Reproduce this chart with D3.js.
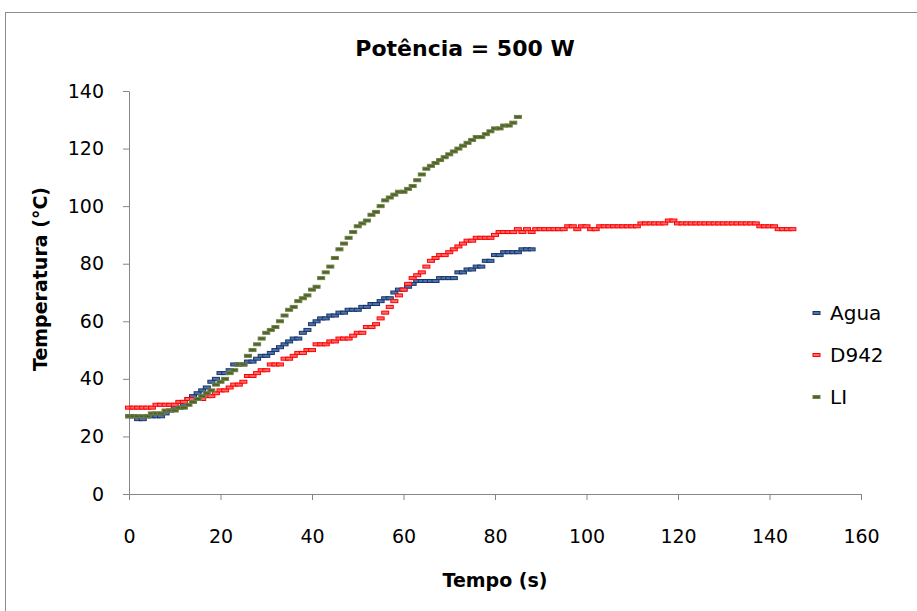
<!DOCTYPE html>
<head>
  <meta charset="utf-8">
  <script src="https://d3js.org/d3.v7.min.js"></script>
  <style>
    body { margin:0; background:white; }
    svg { display:block; background:white; }
    text { font-family: "Comic Sans MS", "DejaVu Sans", sans-serif; fill:#000; }
    .axis path, .axis line { stroke:#868686; }
  </style>
</head>

<body>
  <script>
    // temperatures, one sample per second starting at t = 0
    var sampleStep = 1;

    var agua = [
      27,27,26,26,27,27,27,27,28,29,
      30,30,31,33,34,35,36,37,39,40,
      42,42,43,45,45,45,46,46,47,48,
      48,49,50,51,52,53,54,54,56,57,
      59,60,61,61,62,62,63,63,64,64,
      64,65,65,66,66,67,68,68,70,71,
      71,72,73,74,74,74,74,74,75,75,
      75,75,77,77,78,78,79,79,81,81,
      83,83,84,84,84,84,85,85,85
    ];

    var d942 = [
      30,30,30,30,30,30,
      31,31,31,31,31,
      32,32,33,33,33,33,
      34,34,35,36,36,37,38,38,39,
      41,41,42,43,43,45,45,45,47,47,
      48,49,49,50,50,52,52,52,53,53,
      54,54,54,55,56,56,58,58,59,61,
      63,65,67,69,71,73,75,76,77,79,
      81,82,83,83,84,85,86,87,88,88,
      89,89,89,89,90,91,91,91,91,92,
      91,92,91,92,92,92,92,92,92,92,
      93,93,92,93,93,92,92,93,93,93,
      93,93,93,93,93,93,94,94,94,94,
      94,94,95,95,94,94,94,94,94,94,
      94,94,94,94,94,94,94,94,94,94,
      94,94,93,93,93,93,92,92,92,92
    ];

    var li = [
      27,27,27,27,27,28,28,28,29,29,
      29,30,30,31,32,33,34,35,36,38,
      39,40,42,43,45,45,48,50,52,54,
      56,57,58,60,62,64,65,67,68,69,
      71,72,75,77,79,82,85,87,89,91,
      93,94,95,97,98,100,102,103,104,105,
      105,106,107,109,111,113,114,115,116,117,
      118,119,120,121,122,123,124,124,125,126,
      127,127,128,128,129,131
    ];

    var seriesNames = ["Agua", "D942", "LI"];
    var xTicks = [0, 20, 40, 60, 80, 100, 120, 140, 160];
    var yTicks = [0, 20, 40, 60, 80, 100, 120, 140];

    var width = 917;
    var height = 611;

    var colors = {
      "Agua": { fill: "#4a74b4", stroke: "#1c3464" },
      "D942": { fill: "#ff6a6a", stroke: "#ff0000" },
      "LI":   { fill: "#4f6228", stroke: "#6f8048" }
    };

    var svg = d3.select("body").append("svg")
      .attr("width", width)
      .attr("height", height);

    // outer chart border (runs off the right/bottom edge)
    svg.append("rect")
      .attr("x", 5.5).attr("y", 12.5)
      .attr("width", 940).attr("height", 640)
      .attr("fill", "none")
      .attr("stroke", "#8c8c8c");

    var x = d3.scaleLinear().domain([0, 160]).range([129, 861]);
    var y = d3.scaleLinear().domain([0, 140]).range([494, 91]);

    var xAxis = svg.append("g")
      .attr("class", "axis")
      .attr("transform", "translate(0,494)")
      .call(d3.axisBottom(x).tickValues(xTicks).tickSize(6).tickSizeOuter(0).tickPadding(30));
    xAxis.selectAll("text").attr("font-size", 19).attr("font-family", null);

    var yAxis = svg.append("g")
      .attr("class", "axis")
      .attr("transform", "translate(129,0)")
      .call(d3.axisLeft(y).tickValues(yTicks).tickSize(6).tickSizeOuter(0).tickPadding(19));
    yAxis.selectAll("text").attr("font-size", 19).attr("font-family", null);

    svg.selectAll(".axis .domain").attr("stroke", "#868686");

    function toPoints(vals) {
      return vals.map(function(v, i) { return { t: i * sampleStep, v: v }; });
    }

    var data = [
      { name: "Agua", points: toPoints(agua) },
      { name: "D942", points: toPoints(d942) },
      { name: "LI", points: toPoints(li) }
    ];

    var groups = svg.selectAll(".series")
      .data(data)
      .enter()
      .append("g")
      .attr("class", "series");

    groups.selectAll("rect")
      .data(function(d) { return d.points.map(function(p) { return { name: d.name, t: p.t, v: p.v }; }); })
      .enter()
      .append("rect")
      .attr("x", function(d) { return x(d.t) - 3.5; })
      .attr("y", function(d) { return y(d.v) - 1.5; })
      .attr("width", 7)
      .attr("height", 3)
      .attr("fill", function(d) { return colors[d.name].fill; })
      .attr("stroke", function(d) { return colors[d.name].stroke; })
      .attr("stroke-width", 1);

    // legend
    var legend = svg.selectAll(".legend")
      .data(seriesNames)
      .enter()
      .append("g")
      .attr("class", "legend")
      .attr("transform", function(d, i) { return "translate(813," + (313 + i * 42) + ")"; });

    legend.append("rect")
      .attr("x", 0).attr("y", -1.5)
      .attr("width", 7).attr("height", 3)
      .attr("fill", function(d) { return colors[d].fill; })
      .attr("stroke", function(d) { return colors[d].stroke; });

    legend.append("text")
      .attr("x", 17).attr("y", 7)
      .attr("font-size", 20)
      .text(function(d) { return d; });

    // titles
    svg.append("text")
      .attr("x", 465).attr("y", 56)
      .attr("text-anchor", "middle")
      .attr("font-size", 22)
      .attr("font-weight", "bold")
      .text("Potência = 500 W");

    svg.append("text")
      .attr("x", 495).attr("y", 587)
      .attr("text-anchor", "middle")
      .attr("font-size", 19)
      .attr("font-weight", "bold")
      .text("Tempo (s)");

    svg.append("text")
      .attr("transform", "translate(47,279) rotate(-90)")
      .attr("text-anchor", "middle")
      .attr("font-size", 19)
      .attr("font-weight", "bold")
      .text("Temperatura (°C)");
  </script>
</body>
